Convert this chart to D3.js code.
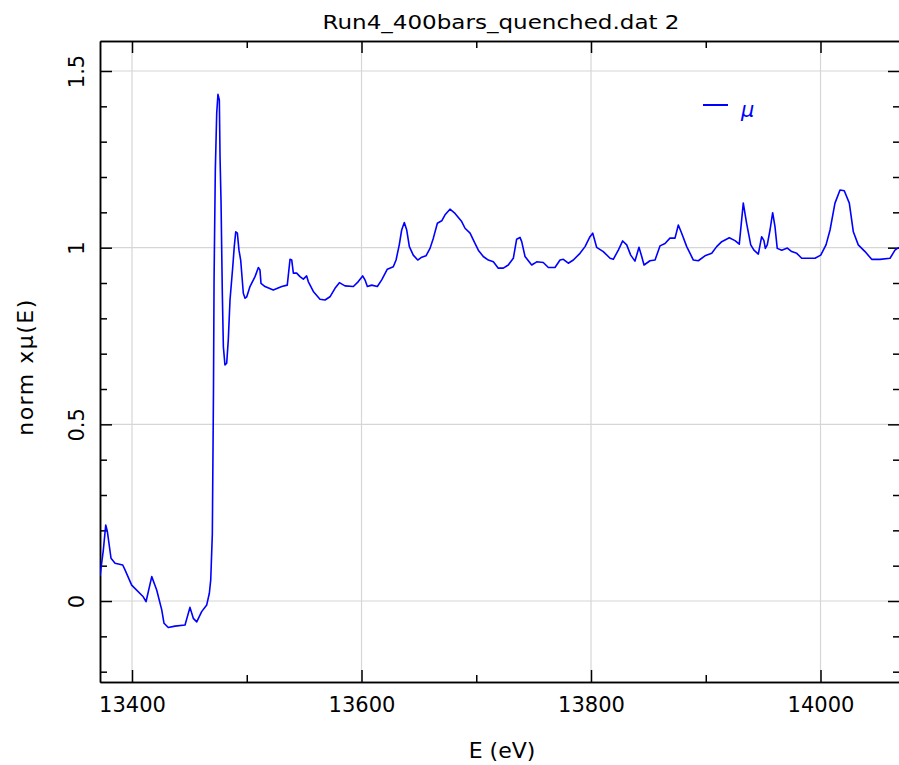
<!DOCTYPE html>
<html>
<head>
<meta charset="utf-8">
<script src="https://cdn.jsdelivr.net/npm/d3@7"></script>
<style>
  body { margin: 0; background: #fff; }
  svg { display: block; }
  text { font-family: "DejaVu Sans", "Liberation Sans", sans-serif; fill: #000; }
</style>
</head>
<body>
<script>
// normalized mu(E)
var energy = [
  13372.1, 13375.0, 13377.1, 13378.5, 13381.7, 13385.2, 13391.9, 13393.9, 13399.7, 13409.8,
  13412.2, 13417.2, 13421.5, 13425.9, 13427.9, 13431.6, 13437.5, 13446.2, 13450.5, 13453.4,
  13456.4, 13460.7, 13465.1, 13467.4, 13468.6, 13470.0, 13471.0, 13471.5, 13472.6, 13473.8,
  13474.9, 13476.1, 13476.7, 13477.6, 13478.2, 13478.7, 13479.6, 13481.0, 13482.5, 13483.9,
  13485.4, 13487.8, 13489.1, 13490.4, 13491.8, 13493.2, 13494.7, 13497.0, 13498.5, 13500.0,
  13502.8, 13507.2, 13510.1, 13511.5, 13512.4, 13515.9, 13523.1, 13530.5, 13535.3, 13537.7,
  13539.2, 13540.6, 13543.5, 13546.4, 13549.3, 13552.2, 13553.6, 13558.0, 13563.8, 13568.2,
  13572.5, 13576.9, 13580.7, 13585.6, 13592.9, 13597.2, 13601.0, 13603.0, 13605.1, 13608.9,
  13613.8, 13617.6, 13622.5, 13627.7, 13630.1, 13632.9, 13635.0, 13637.3, 13639.4, 13641.7,
  13645.1, 13649.0, 13652.5, 13656.2, 13659.7, 13662.6, 13666.1, 13669.9, 13672.8, 13677.1,
  13681.5, 13687.3, 13690.2, 13694.6, 13698.9, 13701.8, 13706.1, 13710.5, 13714.9, 13719.2,
  13723.6, 13727.9, 13732.3, 13735.2, 13738.1, 13739.6, 13742.5, 13745.4, 13748.3, 13752.7,
  13758.4, 13762.8, 13768.6, 13773.0, 13775.9, 13780.2, 13784.6, 13790.4, 13794.8, 13799.1,
  13801.5, 13804.9, 13810.7, 13816.6, 13819.4, 13823.8, 13827.6, 13831.1, 13834.6, 13838.3,
  13841.8, 13844.2, 13846.2, 13851.4, 13855.8, 13860.1, 13864.5, 13868.8, 13873.2, 13876.1,
  13879.0, 13883.4, 13889.2, 13893.5, 13899.3, 13905.2, 13909.5, 13913.9, 13920.5, 13925.5,
  13929.2, 13932.7, 13935.6, 13939.2, 13942.0, 13945.8, 13948.7, 13950.7, 13951.9, 13953.6,
  13956.0, 13958.3, 13960.3, 13962.3, 13966.2, 13971.1, 13974.9, 13979.3, 13983.6, 13989.4,
  13995.2, 14000.2, 14004.8, 14008.3, 14012.6, 14017.0, 14020.7, 14025.1, 14028.6, 14032.9,
  14038.8, 14044.6, 14051.8, 14060.6, 14064.9, 14068.4
];
var muNorm = [
  0.071, 0.144, 0.215, 0.197, 0.121, 0.107, 0.102, 0.088, 0.045, 0.012,
  -0.002, 0.069, 0.031, -0.025, -0.063, -0.075, -0.071, -0.068, -0.018, -0.049,
  -0.059, -0.030, -0.011, 0.022, 0.060, 0.190, 0.597, 0.909, 1.220, 1.380,
  1.434, 1.418, 1.258, 1.126, 0.984, 0.871, 0.720, 0.668, 0.673, 0.739,
  0.852, 0.946, 1.003, 1.045, 1.041, 0.993, 0.965, 0.871, 0.857, 0.861,
  0.890, 0.918, 0.944, 0.937, 0.899, 0.890, 0.880, 0.890, 0.894, 0.967,
  0.965, 0.928, 0.928, 0.918, 0.911, 0.920, 0.904, 0.876, 0.854, 0.852,
  0.861, 0.885, 0.901, 0.892, 0.890, 0.904, 0.920, 0.909, 0.890, 0.894,
  0.890, 0.909, 0.939, 0.946, 0.965, 1.008, 1.050, 1.071, 1.050, 1.003,
  0.979, 0.965, 0.973, 0.977, 0.998, 1.027, 1.069, 1.076, 1.093, 1.109,
  1.097, 1.074, 1.055, 1.041, 1.012, 0.993, 0.975, 0.965, 0.960, 0.942,
  0.942, 0.951, 0.970, 1.024, 1.029, 1.017, 0.975, 0.963, 0.951, 0.960,
  0.958, 0.944, 0.944, 0.965, 0.967, 0.956, 0.965, 0.984, 1.003, 1.031,
  1.041, 1.001, 0.989, 0.970, 0.967, 0.993, 1.019, 1.008, 0.979, 0.962,
  1.001, 0.975, 0.951, 0.963, 0.965, 1.005, 1.012, 1.027, 1.027, 1.064,
  1.041, 1.003, 0.965, 0.963, 0.977, 0.984, 1.003, 1.017, 1.028, 1.020,
  1.010, 1.126, 1.069, 1.008, 0.993, 0.982, 1.031, 1.020, 0.998, 1.008,
  1.050, 1.099, 1.060, 0.998, 0.993, 0.999, 0.989, 0.984, 0.970, 0.970,
  0.970, 0.979, 1.008, 1.050, 1.126, 1.163, 1.161, 1.126, 1.045, 1.008,
  0.989, 0.967, 0.967, 0.970, 0.993, 1.001
];

var xMajorTicks = [13400, 13600, 13800, 14000];
var xMinorTicks = [13500, 13700, 13900];
var yMajorTicks = [0, 0.5, 1, 1.5];
var yMinorTicks = [-0.2, -0.1, 0.1, 0.2, 0.3, 0.4, 0.6, 0.7, 0.8, 0.9, 1.1, 1.2, 1.3, 1.4];

var titleText = "Run4_400bars_quenched.dat 2";
var xLabel = "E (eV)";
var yLabel = "norm x\u03bc(E)";
var legendLabel = "\u03bc";

var width = 899, height = 765;
// plot frame in pixels (don't call these top/left, window.top is read only)
var plotL = 100, plotR = 899, plotT = 41, plotB = 682;

var svg = d3.select("body").append("svg")
    .attr("width", width)
    .attr("height", height);

var xScale = d3.scaleLinear()
    .domain([13372.1, 14068.4])
    .range([plotL, plotR]);

var yScale = d3.scaleLinear()
    .domain([-0.2292, 1.5849])
    .range([plotB, plotT]);

// grid
svg.append("g").selectAll("line")
    .data(xMajorTicks)
    .enter().append("line")
    .attr("x1", function(d){ return xScale(d); })
    .attr("x2", function(d){ return xScale(d); })
    .attr("y1", plotT).attr("y2", plotB)
    .attr("stroke", "#d6d6d6").attr("stroke-width", 1.2);

svg.append("g").selectAll("line")
    .data(yMajorTicks)
    .enter().append("line")
    .attr("x1", plotL).attr("x2", plotR)
    .attr("y1", function(d){ return yScale(d); })
    .attr("y2", function(d){ return yScale(d); })
    .attr("stroke", "#d6d6d6").attr("stroke-width", 1.2);

// axes - ticks point inward, major ones longer
function styleAxis(g) {
    g.select(".domain").attr("stroke", "#000").attr("stroke-width", 1.5);
    g.selectAll(".tick line").attr("stroke", "#000").attr("stroke-width", 1.5);
}

svg.append("g")
    .attr("transform", "translate(0," + plotB + ")")
    .call(d3.axisBottom(xScale).tickValues(xMinorTicks).tickSizeInner(-7).tickSizeOuter(0).tickFormat(""))
    .call(styleAxis);

var xAxis = svg.append("g")
    .attr("transform", "translate(0," + plotB + ")")
    .call(d3.axisBottom(xScale).tickValues(xMajorTicks).tickSizeInner(-12).tickSizeOuter(0)
        .tickPadding(15).tickFormat(d3.format("d")))
    .call(styleAxis);
xAxis.selectAll("text")
    .attr("font-size", 21)
    .attr("font-family", "DejaVu Sans, sans-serif");

svg.append("g")
    .attr("transform", "translate(0," + plotT + ")")
    .call(d3.axisTop(xScale).tickValues(xMinorTicks).tickSizeInner(-7).tickSizeOuter(0).tickFormat(""))
    .call(styleAxis);
svg.append("g")
    .attr("transform", "translate(0," + plotT + ")")
    .call(d3.axisTop(xScale).tickValues(xMajorTicks).tickSizeInner(-12).tickSizeOuter(0).tickFormat(""))
    .call(styleAxis);

svg.append("g")
    .attr("transform", "translate(" + plotL + ",0)")
    .call(d3.axisLeft(yScale).tickValues(yMinorTicks).tickSizeInner(-7).tickSizeOuter(0).tickFormat(""))
    .call(styleAxis);

var yAxis = svg.append("g")
    .attr("transform", "translate(" + plotL + ",0)")
    .call(d3.axisLeft(yScale).tickValues(yMajorTicks).tickSizeInner(-12).tickSizeOuter(0)
        .tickFormat(function(d){ return String(d); }))
    .call(styleAxis);
yAxis.selectAll("text")
    .attr("x", 0).attr("y", 0)
    .attr("dy", "0.36em")
    .attr("text-anchor", "middle")
    .attr("font-size", 21)
    .attr("font-family", "DejaVu Sans, sans-serif")
    .attr("transform", "translate(-24,0) rotate(-90)");

// right axis sits just past the window edge, only the ticks show
svg.append("g")
    .attr("transform", "translate(" + (plotR + 1) + ",0)")
    .call(d3.axisRight(yScale).tickValues(yMinorTicks).tickSizeInner(-7).tickSizeOuter(0).tickFormat(""))
    .call(styleAxis)
    .select(".domain").remove();
svg.append("g")
    .attr("transform", "translate(" + (plotR + 1) + ",0)")
    .call(d3.axisRight(yScale).tickValues(yMajorTicks).tickSizeInner(-12).tickSizeOuter(0).tickFormat(""))
    .call(styleAxis)
    .select(".domain").remove();

// clip + curve
svg.append("clipPath").attr("id", "plotclip")
    .append("rect")
    .attr("x", plotL).attr("y", plotT)
    .attr("width", plotR - plotL).attr("height", plotB - plotT);

var points = energy.map(function(e, i){ return [e, muNorm[i]]; });

var line = d3.line()
    .x(function(d){ return xScale(d[0]); })
    .y(function(d){ return yScale(d[1]); });

svg.append("path")
    .datum(points)
    .attr("clip-path", "url(#plotclip)")
    .attr("d", line)
    .attr("fill", "none")
    .attr("stroke", "#0000ff")
    .attr("stroke-width", 1.6)
    .attr("stroke-linejoin", "round");

// legend
svg.append("line")
    .attr("x1", 703).attr("x2", 728)
    .attr("y1", 105).attr("y2", 105)
    .attr("stroke", "#0000ff").attr("stroke-width", 2);
svg.append("text")
    .attr("x", 741).attr("y", 117)
    .attr("font-size", 21)
    .attr("font-style", "italic")
    .style("fill", "#0000ff")
    .text(legendLabel);

// title and axis labels
svg.append("text")
    .attr("x", 501).attr("y", 29)
    .attr("text-anchor", "middle")
    .attr("font-size", 19.5)
    .attr("textLength", 357)
    .attr("lengthAdjust", "spacingAndGlyphs")
    .text(titleText);

svg.append("text")
    .attr("x", 502).attr("y", 758)
    .attr("text-anchor", "middle")
    .attr("font-size", 22)
    .text(xLabel);

svg.append("text")
    .attr("transform", "translate(33,367) rotate(-90)")
    .attr("text-anchor", "middle")
    .attr("font-size", 22)
    .attr("letter-spacing", 1.5)
    .text(yLabel);
</script>
</body>
</html>
